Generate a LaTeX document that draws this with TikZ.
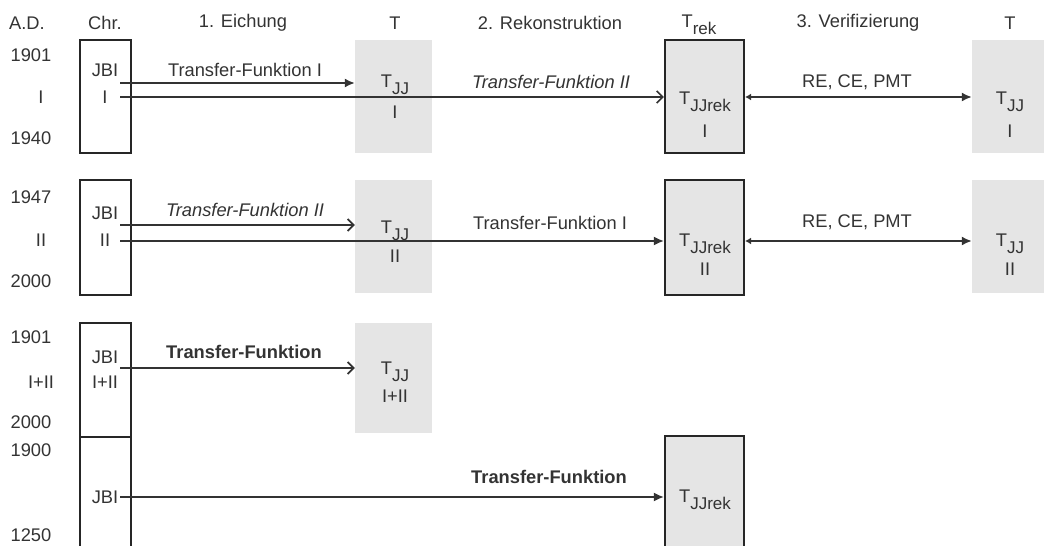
\documentclass[tikz,border=0pt]{standalone}
\usepackage{fontspec}
\setmainfont{Liberation Sans}
\usetikzlibrary{arrows.meta}
\newcommand{\sbs}[1]{\raisebox{-0.4em}{\fontsize{17}{17}\selectfont #1}}
\begin{document}
\begin{tikzpicture}[x=1pt,y=-1pt,
 txt/.style={font=\fontsize{18.3}{20}\selectfont, text=black!80, inner sep=0pt},
 chrbox/.style={draw=black!85, line width=2.2pt, minimum width=51pt, inner sep=0pt},
 tbox/.style={fill=black!10, minimum width=77pt, inner sep=0pt},
 rekbox/.style={draw=black!85, fill=black!10, line width=2.2pt, minimum width=79pt, inner sep=0pt},
 conn/.style={draw=black!80, line width=1.7pt},
 fa/.style={-{Latex[length=10pt,width=9pt]}},
 oa/.style={-{Straight Barb[length=6pt,width=12pt]}},
 ba/.style={{Latex[length=6pt,width=7pt]}-{Latex[length=10pt,width=9pt]}},
]
\useasboundingbox (0,0) rectangle (1044,546);
\clip (0,0) rectangle (1044,546);

% headers
\node[txt] (hAD) at (27,23) {A.D.};
\node[txt] (hChr) at (105,23) {Chr.};
\node[txt] (hE) at (243,23) {1. Eichung};
\node[txt] (hT1) at (395,23) {T};
\node[txt] (hTrek) at (699,25) {T\sbs{rek}};
\node[txt] (hR) at (550,23) {2. Rekonstruktion};
\node[txt] (hV) at (858,23) {3. Verifizierung};
\node[txt] (hT2) at (1010,23) {T};

% years
\node[txt] (y1) at (31,55) {1901};
\node[txt] (y2) at (41,97) {I};
\node[txt] (y3) at (31,138) {1940};
\node[txt] (y4) at (31,197) {1947};
\node[txt] (y5) at (41,240) {II};
\node[txt] (y6) at (31,281) {2000};
\node[txt] (y7) at (31,337) {1901};
\node[txt] (y8) at (41,382) {I+II};
\node[txt] (y9) at (31,422) {2000};
\node[txt] (y10) at (31,450) {1900};
\node[txt] (y11) at (31,535) {1250};

% boxes
\node[chrbox, minimum height=113pt] (c1) at (105.5,96.5) {};
\node[chrbox, minimum height=115pt] (c2) at (105.5,237.5) {};
\node[chrbox, minimum height=114pt] (c3) at (105.5,380) {};
\node[chrbox, minimum height=124pt] (c4) at (105.5,499) {};

\node[tbox, minimum height=113pt] (tb1) at (393.5,96.5) {};
\node[tbox, minimum height=113pt] (tb2) at (393.5,236.5) {};
\node[tbox, minimum height=110pt] (tb3) at (393.5,378) {};

\node[rekbox, minimum height=113pt] (rk1) at (704.5,96.5) {};
\node[rekbox, minimum height=115pt] (rk2) at (704.5,237.5) {};
\node[rekbox, minimum height=124pt] (rk4) at (704.5,498) {};

\node[tbox, minimum width=78pt, minimum height=113pt] (rt1) at (1011,96.5) {};
\node[tbox, minimum width=78pt, minimum height=113pt] (rt2) at (1011,236.5) {};

% box texts
\node[txt] (c1a) at (105,70) {JBI};
\node[txt] (c1b) at (105,97) {I};
\node[txt] (c2a) at (105,213) {JBI};
\node[txt] (c2b) at (105,240) {II};
\node[txt] (c3a) at (105,357) {JBI};
\node[txt] (c3b) at (105,382) {I+II};
\node[txt] (c4a) at (105,497) {JBI};

\node[txt] (tb1a) at (395,85) {T\sbs{JJ}};
\node[txt] (tb1b) at (395,112) {I};
\node[txt] (tb2a) at (395,231) {T\sbs{JJ}};
\node[txt] (tb2b) at (395,256) {II};
\node[txt] (tb3a) at (395,372) {T\sbs{JJ}};
\node[txt] (tb3b) at (395,396) {I+II};

\node[txt] (rk1a) at (705,102) {T\sbs{JJrek}};
\node[txt] (rk1b) at (705,131) {I};
\node[txt] (rk2a) at (705,244) {T\sbs{JJrek}};
\node[txt] (rk2b) at (705,269) {II};
\node[txt] (rk4a) at (705,500) {T\sbs{JJrek}};

\node[txt] (rt1a) at (1010,102) {T\sbs{JJ}};
\node[txt] (rt1b) at (1010,131) {I};
\node[txt] (rt2a) at (1010,244) {T\sbs{JJ}};
\node[txt] (rt2b) at (1010,269) {II};

% connector labels
\node[txt] (l1a) at (245,70) {Transfer-Funktion I};
\node[txt] (l1b) at (551,82) {\itshape Transfer-Funktion II};
\node[txt] (l1c) at (857,82) {RE, CE, PMT};
\node[txt] (l2a) at (245,210) {\itshape Transfer-Funktion II};
\node[txt] (l2b) at (550,223) {Transfer-Funktion I};
\node[txt] (l2c) at (857,222) {RE, CE, PMT};
\node[txt] (l3a) at (244,352) {\bfseries Transfer-Funktion};
\node[txt] (l4a) at (549,477) {\bfseries Transfer-Funktion};

% connectors
\coordinate (s1a) at (120,83);
\coordinate (s1b) at (120,97);
\coordinate (s2a) at (120,225);
\coordinate (s2b) at (120,241);
\coordinate (s3a) at (120,368);
\coordinate (s4a) at (120,497);

\draw[conn,fa] (s1a) -- (s1a -| tb1.west);
\draw[conn,oa] (s1b) -- (s1b -| rk1.west);
\draw[conn,ba] (rk1.east |- s1b) -- (s1b -| rt1.west);

\draw[conn,oa] (s2a) -- (s2a -| tb2.west);
\draw[conn,fa] (s2b) -- (s2b -| rk2.west);
\draw[conn,ba] (rk2.east |- s2b) -- (s2b -| rt2.west);

\draw[conn,oa] (s3a) -- (s3a -| tb3.west);
\draw[conn,fa] (s4a) -- (s4a -| rk4.west);
\end{tikzpicture}
\end{document}
